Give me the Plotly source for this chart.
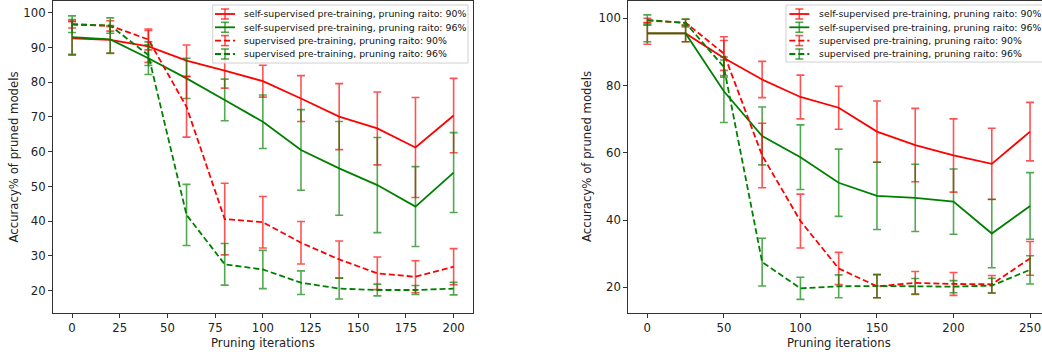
import plotly.graph_objects as go

# ---------------- data ----------------
left_iters = [0, 20, 40, 60, 80, 100, 120, 140, 160, 180, 200]
left_ss90 = [92.6, 92.2, 90.3, 86.2, 83.3, 80.3, 75.3, 70.1, 66.7, 61.2, 70.4]
left_ss90_err = [4.8, 3.8, 4.6, 4.5, 5.0, 4.6, 6.6, 9.5, 10.5, 14.4, 10.7]
left_ss96 = [93.0, 92.3, 86.9, 81.1, 74.9, 68.6, 60.5, 55.2, 50.4, 44.2, 54.0]
left_ss96_err = [5.0, 4.0, 4.7, 5.8, 6.0, 7.7, 11.6, 13.5, 13.7, 11.5, 11.5]
left_sup90 = [96.6, 96.2, 92.3, 72.9, 40.6, 39.7, 33.8, 29.0, 25.0, 24.0, 26.9]
left_sup90_err = [1.0, 1.5, 3.0, 8.7, 10.3, 7.4, 6.1, 5.3, 4.7, 4.6, 5.2]
left_sup96 = [96.7, 96.3, 87.8, 41.8, 27.6, 26.1, 22.3, 20.6, 20.2, 20.2, 20.6]
left_sup96_err = [2.4, 2.2, 3.0, 8.8, 6.0, 5.5, 3.4, 3.0, 1.7, 1.3, 1.8]

right_iters = [0, 25, 50, 75, 100, 125, 150, 175, 200, 225, 250]
right_ss90 = [95.5, 95.5, 88.2, 81.8, 76.6, 73.4, 66.3, 62.3, 59.2, 56.7, 66.3]
right_ss90_err = [3.2, 2.5, 5.2, 5.4, 6.5, 6.4, 9.1, 10.9, 10.9, 10.6, 8.7]
right_ss96 = [95.5, 95.5, 78.3, 65.0, 58.7, 51.1, 47.2, 46.6, 45.5, 36.0, 44.2]
right_ss96_err = [2.5, 2.5, 9.3, 8.6, 9.6, 10.0, 10.0, 10.0, 9.7, 10.2, 9.9]
right_sup90 = [99.3, 98.7, 89.5, 59.2, 39.7, 25.6, 20.3, 21.3, 21.0, 20.9, 28.6]
right_sup90_err = [0.7, 1.0, 5.0, 9.6, 8.0, 4.8, 3.4, 3.4, 3.4, 2.6, 5.0]
right_sup96 = [99.5, 98.6, 85.5, 27.5, 19.7, 20.3, 20.4, 20.3, 20.2, 20.5, 25.2]
right_sup96_err = [1.5, 1.2, 3.0, 7.1, 3.3, 3.4, 3.5, 2.3, 1.8, 2.2, 4.2]

series_labels = [
    "self-supervised pre-training, pruning raito: 90%",
    "self-supervised pre-training, pruning raito: 96%",
    "supervised pre-training, pruning raito: 90%",
    "supervised pre-training, pruning raito: 96%",
]
left_ticks = [0, 25, 50, 75, 100, 125, 150, 175, 200]
right_ticks = [0, 50, 100, 150, 200, 250]
left_yticks = [20, 30, 40, 50, 60, 70, 80, 90, 100]
right_yticks = [20, 40, 60, 80, 100]
x_title = "Pruning iterations"
y_title = "Accuracy% of pruned models"

# ---------------- style ----------------
W, H = 1042, 352
MT, MB = 1, 39
PH = H - MT - MB
FONT = "DejaVu Sans"
RED, GREEN = "#ff0000", "#008000"
RED_E, GREEN_E = "rgba(255,0,0,0.68)", "rgba(0,128,0,0.68)"
DASH = "6px,3px"
LW = 1.8

def px_x(px):
    return px / W

def px_y(py):
    return (MT + PH - py) / PH

styles = [
    (RED, RED_E, "solid"),
    (GREEN, GREEN_E, "solid"),
    (RED, RED_E, DASH),
    (GREEN, GREEN_E, DASH),
]

fig = go.Figure()

def add_series(xs, means, errs, style, xa, ya):
    col, ecol, dash = style
    fig.add_trace(go.Scatter(
        x=xs, y=means, mode="lines", xaxis=xa, yaxis=ya, showlegend=False,
        line=dict(color=col, width=LW, dash=dash),
        error_y=dict(type="data", array=errs, visible=True, color=ecol,
                     thickness=1.6, width=4),
        hoverinfo="skip",
    ))

left_sets = [(left_ss90, left_ss90_err), (left_ss96, left_ss96_err),
             (left_sup90, left_sup90_err), (left_sup96, left_sup96_err)]
right_sets = [(right_ss90, right_ss90_err), (right_ss96, right_ss96_err),
              (right_sup90, right_sup90_err), (right_sup96, right_sup96_err)]
for (m, e), st in zip(left_sets, styles):
    add_series(left_iters, m, e, st, "x", "y")
for (m, e), st in zip(right_sets, styles):
    add_series(right_iters, m, e, st, "x2", "y2")

axis_common = dict(
    showline=True, linecolor="#333333", linewidth=1,
    ticks="outside", ticklen=4, tickwidth=1, tickcolor="#333333",
    showgrid=False, zeroline=False,
    tickfont=dict(family=FONT, size=11.7, color="#222222"),
    automargin=False,
)

L0, L1 = 53.0, 472.7
R0, R1 = 628.2, 1042.0
fig.update_layout(
    width=W, height=H,
    margin=dict(l=0, r=0, t=MT, b=MB, pad=0),
    paper_bgcolor="white", plot_bgcolor="white",
    showlegend=False,
    xaxis=dict(domain=[px_x(L0), px_x(L1)], range=[-10, 210],
               tickvals=left_ticks, mirror=True, anchor="y", **axis_common),
    yaxis=dict(domain=[0, 1], range=[13.58, 103.37],
               tickvals=left_yticks, mirror=True, anchor="x", **axis_common),
    xaxis2=dict(domain=[px_x(R0), px_x(R1)], range=[-12.5, 257.8],
                tickvals=right_ticks, mirror=True, anchor="y2", **axis_common),
    yaxis2=dict(domain=[0, 1], range=[12.36, 105.14],
                tickvals=right_yticks, mirror=False, anchor="x2", **axis_common),
)

shapes = []
annotations = []

# axis titles
title_font = dict(family=FONT, size=11.7, color="#222222")
for cx in [(L0 + L1) / 2, 838.7]:
    annotations.append(dict(text=x_title, x=px_x(cx), y=px_y(343), xref="paper", yref="paper",
                            xanchor="center", yanchor="middle", showarrow=False, font=title_font))
for cx in [13.5, 587.0]:
    annotations.append(dict(text=y_title, x=px_x(cx), y=px_y(157), xref="paper", yref="paper",
                            xanchor="center", yanchor="middle", showarrow=False, textangle=-90,
                            font=title_font))

# legends
def add_legend(box_l, box_r, box_t, box_b, sym_l, text_l, rows):
    shapes.append(dict(type="rect", xref="paper", yref="paper",
                       x0=px_x(box_l), x1=px_x(box_r), y0=px_y(box_b), y1=px_y(box_t),
                       fillcolor="rgba(255,255,255,0.8)",
                       line=dict(color="#d0d0d0", width=1), layer="above"))
    for (col, ecol, dash), label, ry in zip(styles, series_labels, rows):
        shapes.append(dict(type="line", xref="paper", yref="paper",
                           x0=px_x(sym_l), x1=px_x(sym_l + 20), y0=px_y(ry), y1=px_y(ry),
                           line=dict(color=col, width=LW, dash=dash), layer="above"))
        cx = sym_l + 10
        shapes.append(dict(type="line", xref="paper", yref="paper",
                           x0=px_x(cx), x1=px_x(cx), y0=px_y(ry - 5), y1=px_y(ry + 5),
                           line=dict(color=ecol, width=1.6), layer="above"))
        for cy in (ry - 5, ry + 5):
            shapes.append(dict(type="line", xref="paper", yref="paper",
                               x0=px_x(cx - 4), x1=px_x(cx + 4), y0=px_y(cy), y1=px_y(cy),
                               line=dict(color=ecol, width=1.6), layer="above"))
        annotations.append(dict(text=label, x=px_x(text_l), y=px_y(ry), xref="paper", yref="paper",
                                xanchor="left", yanchor="middle", showarrow=False,
                                font=dict(family=FONT, size=9.4, color="#111111")))

rows = [14.0, 27.3, 40.6, 54.0]
add_legend(212.7, 468.0, 5, 63, 215.0, 241.7, rows)
add_legend(786.0, 1043.0, 5, 62, 789.3, 816.7, rows)

fig.update_layout(shapes=shapes, annotations=annotations)
fig.write_html("out.html")
